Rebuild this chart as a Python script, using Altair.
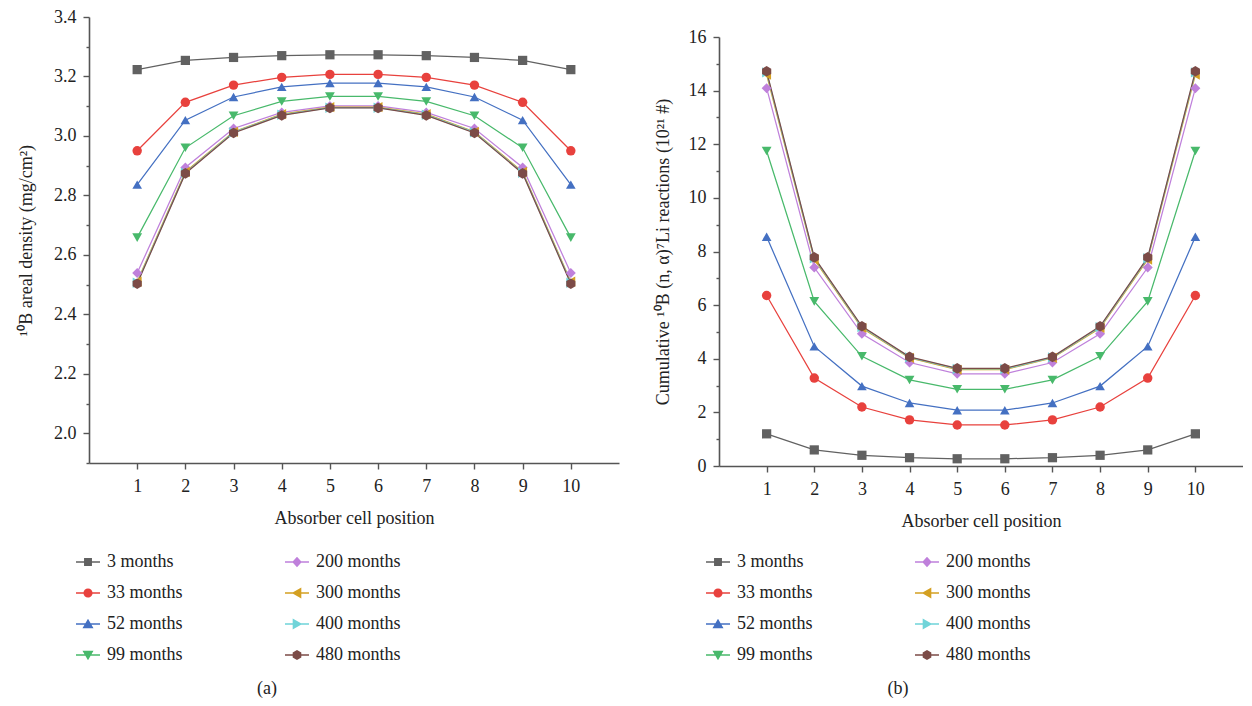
import altair as alt
import pandas as pd

# ---------------- data ----------------
positions = [1, 2, 3, 4, 5, 6, 7, 8, 9, 10]
series_names = ["3 months", "33 months", "52 months", "99 months",
                "200 months", "300 months", "400 months", "480 months"]

# (a) 10B areal density (mg/cm^2)
density_3 = [3.223, 3.254, 3.264, 3.270, 3.273, 3.273, 3.270, 3.264, 3.254, 3.223]
density_33 = [2.950, 3.113, 3.171, 3.197, 3.207, 3.207, 3.197, 3.171, 3.113, 2.950]
density_52 = [2.836, 3.053, 3.131, 3.165, 3.178, 3.178, 3.165, 3.131, 3.053, 2.836]
density_99 = [2.658, 2.960, 3.068, 3.116, 3.133, 3.133, 3.116, 3.068, 2.960, 2.658]
density_200 = [2.539, 2.894, 3.025, 3.079, 3.101, 3.101, 3.079, 3.025, 2.894, 2.539]
density_300 = [2.510, 2.879, 3.014, 3.073, 3.097, 3.097, 3.073, 3.014, 2.879, 2.510]
density_400 = [2.506, 2.876, 3.012, 3.071, 3.095, 3.095, 3.071, 3.012, 2.876, 2.506]
density_480 = [2.503, 2.874, 3.010, 3.069, 3.094, 3.094, 3.069, 3.010, 2.874, 2.503]

# (b) cumulative 10B(n,a)7Li reactions (10^21 #)
reactions_3 = [1.20, 0.60, 0.40, 0.31, 0.27, 0.27, 0.31, 0.40, 0.60, 1.20]
reactions_33 = [6.36, 3.28, 2.20, 1.72, 1.53, 1.53, 1.72, 2.20, 3.28, 6.36]
reactions_52 = [8.55, 4.46, 2.98, 2.35, 2.08, 2.08, 2.35, 2.98, 4.46, 8.55]
reactions_99 = [11.75, 6.14, 4.09, 3.21, 2.86, 2.86, 3.21, 4.09, 6.14, 11.75]
reactions_200 = [14.09, 7.40, 4.93, 3.86, 3.44, 3.44, 3.86, 4.93, 7.40, 14.09]
reactions_300 = [14.60, 7.70, 5.15, 4.03, 3.59, 3.59, 4.03, 5.15, 7.70, 14.60]
reactions_400 = [14.68, 7.75, 5.18, 4.05, 3.62, 3.62, 4.05, 5.18, 7.75, 14.68]
reactions_480 = [14.72, 7.78, 5.21, 4.07, 3.64, 3.64, 4.07, 5.21, 7.78, 14.72]

density_ticks = [2.0, 2.2, 2.4, 2.6, 2.8, 3.0, 3.2, 3.4]
density_minor = [1.9, 2.1, 2.3, 2.5, 2.7, 2.9, 3.1, 3.3]
reaction_ticks = [0, 2, 4, 6, 8, 10, 12, 14, 16]
reaction_minor = [1, 3, 5, 7, 9, 11, 13, 15]

series_colors = ["#616161", "#e8413d", "#4470c2", "#48b96b",
                 "#bf80db", "#d4a022", "#6fd4d9", "#7c4b47"]
hexagon = "M0,-1L0.866,-0.5L0.866,0.5L0,1L-0.866,0.5L-0.866,-0.5Z"
marker_shapes = ["square", "circle", "triangle-up", "triangle-down",
                 "diamond", "triangle-left", "triangle-right", hexagon]
marker_sizes = [85, 112, 145, 145, 130, 145, 145, 125]

# legend glyphs: a short line with the marker on it
bar = "M-1,-0.055L1,-0.055L1,0.055L-1,0.055Z"
legend_paths = [
    bar + "M-0.33,-0.33L0.33,-0.33L0.33,0.33L-0.33,0.33Z",
    bar + "M-0.38,0A0.38,0.38,0,1,1,0.38,0A0.38,0.38,0,1,1,-0.38,0Z",
    bar + "M0,-0.44L0.46,0.36L-0.46,0.36Z",
    bar + "M0,0.44L-0.46,-0.36L0.46,-0.36Z",
    bar + "M0,-0.44L0.4,0L0,0.44L-0.4,0Z",
    bar + "M-0.44,0L0.36,-0.46L0.36,0.46Z",
    bar + "M0.44,0L-0.36,0.46L-0.36,-0.46Z",
    bar + "M0,-0.42L0.36,-0.21L0.36,0.21L0,0.42L-0.36,0.21L-0.36,-0.21Z",
]

density_series = [density_3, density_33, density_52, density_99,
                  density_200, density_300, density_400, density_480]
reaction_series = [reactions_3, reactions_33, reactions_52, reactions_99,
                   reactions_200, reactions_300, reactions_400, reactions_480]


def to_frame(all_series):
    rows = []
    for i, (name, vals) in enumerate(zip(series_names, all_series)):
        for p, v in zip(positions, vals):
            rows.append({"pos": p, "val": v, "series": name, "idx": i})
    return pd.DataFrame(rows)


df_a = to_frame(density_series)
df_b = to_frame(reaction_series)

FONT = "Liberation Serif"
AXIS_COLOR = "#555555"
TEXT_COLOR = "#222222"
FS = 18


def panel(df, domain, major, minor, fmt, ytitle, w, h, caption,
          lx, ly, cap_dx, ytitle_pad):
    xs = alt.Scale(domain=[0, 11], nice=False, zero=False)
    ys = alt.Scale(domain=domain, nice=False, zero=False)
    cscale = alt.Scale(domain=series_names, range=series_colors)
    x_main = alt.X("pos:Q", scale=xs,
                   axis=alt.Axis(values=positions, title="Absorber cell position",
                                 grid=False, tickSize=6, labelPadding=8,
                                 titlePadding=14))
    x_plain = alt.X("pos:Q", scale=xs)
    base = alt.Chart(df)

    lines = base.mark_line(strokeWidth=1.25).encode(
        x=x_main,
        y=alt.Y("val:Q", scale=ys,
                axis=alt.Axis(values=major, format=fmt, title=ytitle, grid=False,
                              tickSize=6, labelPadding=7,
                              titlePadding=ytitle_pad)),
        color=alt.Color("series:N", scale=cscale, legend=None),
    )
    points = base.mark_point(filled=True, opacity=1).encode(
        x=x_plain,
        y=alt.Y("val:Q", scale=ys, axis=None),
        color=alt.Color("series:N", scale=cscale, legend=None),
        shape=alt.Shape("series:N",
                        scale=alt.Scale(domain=series_names, range=marker_shapes),
                        legend=None),
        size=alt.Size("series:N",
                      scale=alt.Scale(domain=series_names, range=marker_sizes),
                      legend=None),
        order=alt.Order("idx:Q"),
    )
    minor_axis = base.mark_point(opacity=0).encode(
        x=x_plain,
        y=alt.Y("val:Q", scale=ys,
                axis=alt.Axis(values=minor, labels=False, domain=False,
                              tickSize=3, title=None, orient="left", grid=False)),
    )
    leg = alt.Legend(orient="none", legendX=lx, legendY=ly, direction="vertical",
                     columns=2, title=None, padding=0, rowPadding=11,
                     columnPadding=102, clipHeight=20, symbolSize=576,
                     symbolStrokeWidth=0, labelOffset=7, labelFont=FONT,
                     labelFontSize=FS, labelColor=TEXT_COLOR, labelLimit=300)
    legend_layer = base.transform_filter("false").mark_point(
        filled=True, size=576, opacity=1
    ).encode(
        x=x_plain,
        y=alt.Y("val:Q", scale=ys, axis=None),
        color=alt.Color("series:N", scale=cscale, legend=leg),
        shape=alt.Shape("series:N",
                        scale=alt.Scale(domain=series_names, range=legend_paths),
                        legend=leg),
    )
    return alt.layer(lines, points, minor_axis, legend_layer).resolve_scale(
        color="independent", shape="independent", size="independent"
    ).resolve_axis(y="independent").properties(
        width=w, height=h,
        title=alt.TitleParams(caption, orient="bottom", anchor="middle",
                              frame="group", dx=cap_dx, offset=15,
                              font=FONT, fontSize=FS, fontWeight="normal",
                              color=TEXT_COLOR),
    )


left = panel(df_a, [1.9, 3.4], density_ticks, density_minor, ".1f",
             "\u00b9\u2070B areal density (mg/cm\u00b2)", 530, 446, "(a)",
             -13, 535, -87, 18)
right = panel(df_b, [0, 16], reaction_ticks, reaction_minor, "d",
              "Cumulative \u00b9\u2070B (n, \u03b1)\u2077Li reactions (10\u00b2\u00b9 #)",
              524, 429, "(b)", -13, 515, -83, 16)

# empty spacer that drops panel (b) a little lower than panel (a)
spacer = alt.Chart(df_b).mark_point(opacity=0).properties(width=10, height=1)
right_col = alt.vconcat(spacer, right, spacing=7)

chart = alt.hconcat(left, right_col, spacing=35).resolve_scale(
    color="independent", shape="independent", size="independent"
).properties(
    padding={"left": 9, "top": 0, "right": 0, "bottom": 0}
).configure_view(stroke=None).configure_axis(
    labelFont=FONT, titleFont=FONT, labelFontSize=FS, titleFontSize=FS,
    titleFontWeight="normal", labelColor=TEXT_COLOR, titleColor=TEXT_COLOR,
    domainColor=AXIS_COLOR, tickColor=AXIS_COLOR, domainWidth=1.6, tickWidth=1.4,
)

chart.save("out.html", embed_options={"renderer": "svg", "actions": False})
